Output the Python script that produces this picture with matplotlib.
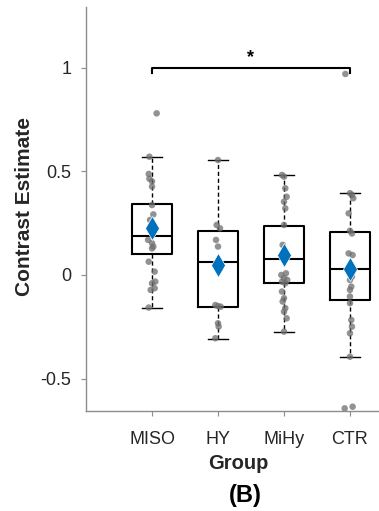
import matplotlib
matplotlib.use("Agg")
import matplotlib.pyplot as plt
import numpy as np

plt.rcParams['font.family'] = ['Liberation Sans', 'DejaVu Sans']

# grupos y estadisticos
grupos = ["MISO", "HY", "MiHy", "CTR"]
q1 = [0.10, -0.156, -0.04, -0.12]
mediana = [0.19, 0.061, 0.077, 0.029]
q3 = [0.34, 0.213, 0.236, 0.209]
bigote_inf = [-0.157, -0.31, -0.275, -0.397]
bigote_sup = [0.57, 0.554, 0.482, 0.394]
media = [0.226, 0.048, 0.096, 0.03]

# puntos individuales por grupo
miso = [0.779, 0.570, 0.487, 0.464, 0.451, 0.426, 0.337, 0.292, 0.265, 0.169,
        0.153, 0.137, 0.128, 0.064, 0.016, -0.032, -0.04, -0.064, -0.072, -0.157]
hy = [0.554, 0.241, 0.225, 0.169, 0.137, 0.06, -0.145, -0.15, -0.153,
      -0.233, -0.249, -0.305]
mihy = [0.482, 0.474, 0.418, 0.377, 0.353, 0.321, 0.241, 0.145, 0.008, 0.0,
        -0.016, -0.024, -0.032, -0.04, -0.08, -0.112, -0.128, -0.16, -0.177,
        -0.209, -0.273]
ctr = [0.969, 0.394, 0.386, 0.37, 0.297, 0.213, 0.2, 0.104, 0.096, -0.008,
       -0.024, -0.056, -0.072, -0.104, -0.136, -0.217, -0.249, -0.281, -0.394,
       -0.635, -0.643]

# desplazamiento horizontal (jitter)
jit_miso = [0.07, -0.04, -0.05, -0.04, 0.0, 0.0, 0.0, 0.02, -0.03, -0.06,
            0.0, 0.02, 0.0, -0.05, 0.04, 0.05, 0.0, 0.04, -0.02, -0.05]
jit_hy = [0.0, -0.02, 0.03, -0.03, 0.0, 0.0, -0.04, 0.0, 0.04, 0.0, 0.01, -0.04]
jit_mihy = [-0.03, 0.0, 0.02, 0.04, 0.0, 0.02, 0.0, -0.02, 0.03, -0.04, 0.0,
            0.05, -0.03, 0.02, -0.03, 0.0, -0.02, 0.02, 0.0, 0.04, 0.0]
jit_ctr = [-0.07, 0.0, 0.03, 0.05, -0.02, 0.0, 0.03, -0.02, 0.04, 0.03, 0.0,
           0.02, 0.0, 0.0, 0.0, 0.02, 0.03, 0.0, 0.0, 0.04, -0.08]

puntos = [miso, hy, mihy, ctr]
jitters = [jit_miso, jit_hy, jit_mihy, jit_ctr]

fig = plt.figure(figsize=(3.79, 5.11), dpi=100)
ax = fig.add_axes([0.227, 0.196, 0.773, 0.790])

pos = np.arange(1, len(grupos) + 1)

stats = []
for i, g in enumerate(grupos):
    stats.append({
        "label": g, "q1": q1[i], "med": mediana[i], "q3": q3[i],
        "whislo": bigote_inf[i], "whishi": bigote_sup[i], "fliers": [],
    })

ax.bxp(stats, positions=pos, widths=0.62, showfliers=False,
       boxprops=dict(color="black", linewidth=1.5),
       medianprops=dict(color="black", linewidth=1.5),
       whiskerprops=dict(color="black", linewidth=1.0, linestyle=(0, (3, 2))),
       capprops=dict(color="black", linewidth=1.0),
       capwidths=0.29, zorder=2)

for i in range(len(grupos)):
    x = pos[i] + np.array(jitters[i])
    ax.scatter(x, puntos[i], s=22, color="#6e6e6e", alpha=0.75,
               edgecolors="none", zorder=3)

ax.plot(pos, media, linestyle="none", marker="d", markersize=12.5,
        color="#0072BD", markeredgecolor="white", markeredgewidth=0.5, zorder=4)

# corchete de significancia
y_c = 1.0
ax.plot([1, 1, 4, 4], [0.972, y_c, y_c, 0.972], color="black", linewidth=1.5,
        zorder=5)
ax.text(2.5, 1.005, "*", ha="center", va="bottom", fontsize=13,
        fontweight="bold")

ax.set_xlim(0, 4.44)
ax.set_ylim(-0.655, 1.291)
ax.set_xticks(pos)
ax.set_xticklabels(grupos)
ax.set_yticks([-0.5, 0, 0.5, 1])
ax.set_yticklabels(["-0.5", "0", "0.5", "1"])

for s in ["top", "right"]:
    ax.spines[s].set_visible(False)
for s in ["left", "bottom"]:
    ax.spines[s].set_color("#8c8c8c")
    ax.spines[s].set_linewidth(1.0)

ax.tick_params(axis="both", direction="out", length=3.5, color="#8c8c8c",
               labelcolor="#262626", labelsize=13)
ax.tick_params(axis="x", pad=11)
ax.tick_params(axis="y", pad=7)

fig.text(25 / 379, 1 - 206 / 511, "Contrast Estimate", rotation=90,
         ha="center", va="center", fontsize=15, fontweight="bold",
         color="#262626")
fig.text(238 / 379, 1 - 463 / 511, "Group", ha="center", va="center",
         fontsize=14.5, fontweight="bold", color="#262626")
fig.text(245 / 379, 1 - 495 / 511, "(B)", ha="center", va="center",
         fontsize=17, fontweight="bold", color="black")

fig.savefig("out.png", dpi=100)
